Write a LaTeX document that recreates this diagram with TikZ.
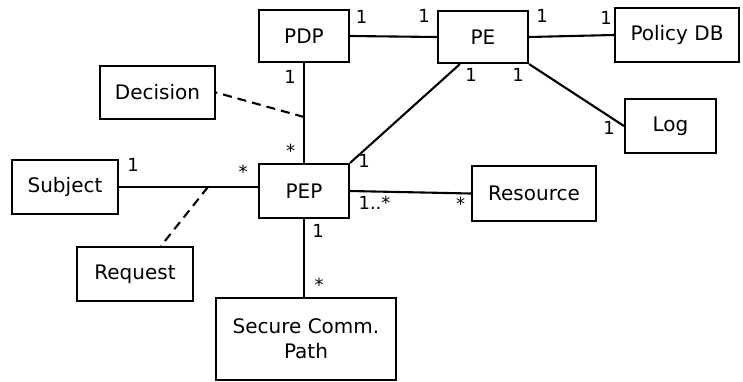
\documentclass[tikz,border=0pt]{standalone}
\usepackage{fontspec}
\setmainfont{DejaVu Sans}
\usetikzlibrary{calc}
\begin{document}
\begin{tikzpicture}[x=1pt,y=-1pt,
  box/.style={draw,line width=2.1pt,inner sep=0pt,font=\fontsize{20}{25}\selectfont,align=center},
  conn/.style={line width=2.1pt},
  dconn/.style={line width=2.1pt,dash pattern=on 9pt off 6pt},
  mult/.style={inner sep=0pt,font=\fontsize{18}{20}\selectfont,text height=0.73em,text depth=0pt}]
\useasboundingbox (0,0) rectangle (743,381);
\node[box,minimum width=90,minimum height=52] (PDP) at (304,36) {PDP};
\node[box,minimum width=90,minimum height=52] (PE) at (483,37) {PE};
\node[box,minimum width=124,minimum height=54] (DB) at (677,35) {Policy DB};
\node[box,minimum width=91,minimum height=54] (Log) at (670.5,126) {Log};
\node[box,minimum width=115,minimum height=53] (Dec) at (157.5,92.5) {Decision};
\node[box,minimum width=106,minimum height=54] (Sub) at (65,187) {Subject};
\node[box,minimum width=90,minimum height=54] (PEP) at (304,191) {PEP};
\node[box,minimum width=116,minimum height=54] (Req) at (135,274) {Request};
\node[box,minimum width=180,minimum height=82] (Sec) at (306,339) {Secure Comm.\\Path};
\node[box,minimum width=124,minimum height=55] (Res) at (534,193.5) {Resource};
% connectors
\draw[conn] (PDP.east) -- (PE.west);
\draw[conn] (PE.east) -- (DB.west);
\draw[conn] (PE.south east) -- (Log.west);
\draw[conn] ($(PE.south west)!0.25!(PE.south east)$) -- (PEP.north east);
\draw[conn] (PDP.south) -- (PEP.north);
\coordinate (dj) at ($(PDP.south)!0.54!(PEP.north)$);
\draw[dconn] (dj) -- (Dec.east);
\draw[conn] (Sub.east) -- (PEP.west |- Sub.east);
\coordinate (rj) at ($(Sub.east)!0.64!(PEP.west |- Sub.east)$);
\draw[dconn] (rj) -- ($(Req.north west)!0.72!(Req.north east)$);
\draw[conn] (PEP.east) -- (Res.west);
\draw[conn] (PEP.south) -- (PEP.south |- Sec.north);
% multiplicities
\node[mult] (m1) at (361.5,19.5) {1};
\node[mult] (m2) at (424,19) {1};
\node[mult] (m3) at (542,19) {1};
\node[mult] (m4) at (606,21) {1};
\node[mult] (m5) at (471,77.5) {1};
\node[mult] (m6) at (518,77.5) {1};
\node[mult] (m7) at (609,130.5) {1};
\node[mult] (m8) at (364,164) {1};
\node[mult] (m9) at (290,80) {1};
\node[mult] (m10) at (290.5,154) {*};
\node[mult] (m11) at (133,168) {1};
\node[mult] (m12) at (243,175) {*};
\node[mult] (m13) at (374.5,206) {1..*};
\node[mult] (m14) at (460.5,207) {*};
\node[mult] (m15) at (318,234) {1};
\node[mult] (m16) at (319,288) {*};
\end{tikzpicture}
\end{document}
